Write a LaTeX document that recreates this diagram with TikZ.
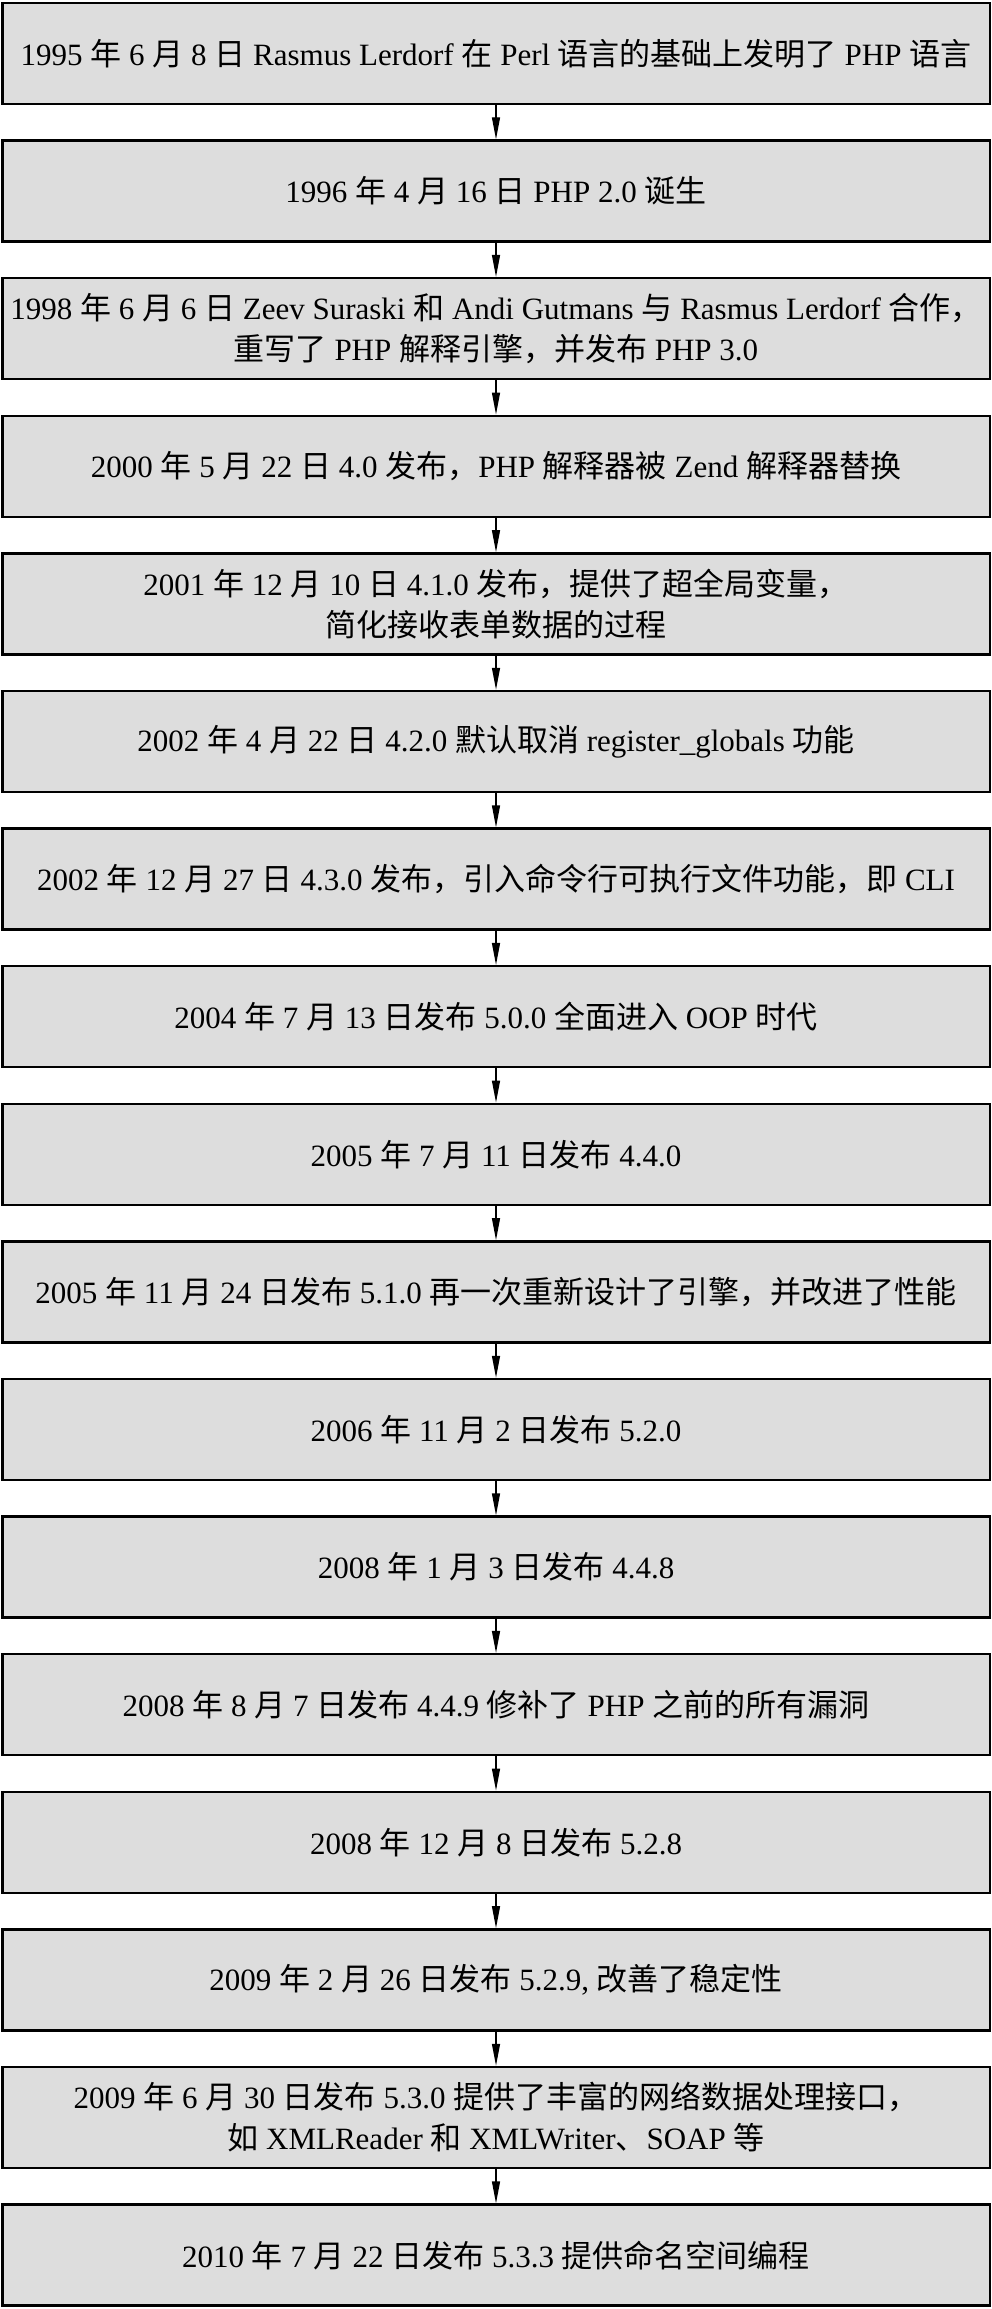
\documentclass[tikz,border=0pt]{standalone}
\usepackage{fontspec}
\setmainfont{Liberation Serif}
\newfontfamily\zhfont{Noto Sans CJK SC}
\newcommand{\zh}[1]{{\zhfont #1}}
\usetikzlibrary{arrows.meta}
\definecolor{boxgray}{RGB}{221,221,221}
\tikzset{
  box/.style={draw=black, fill=boxgray, line width=2.5pt, minimum width=987.5pt,
    minimum height=101pt, inner sep=0pt, align=center,
    font=\fontsize{31}{41}\selectfont},
  arr/.style={line width=1.3pt, -{Triangle[length=22pt,width=8pt]}}
}
\begin{document}
\begin{tikzpicture}[x=1pt,y=1pt]
\useasboundingbox (0,0) rectangle (992,-2309);
\node[box] (b1) at (496,-53.5) {1995 \zh{年} 6 \zh{月} 8 \zh{日} Rasmus Lerdorf \zh{在} Perl \zh{语言的基础上发明了} PHP \zh{语言}};
\node[box] (b2) at (496,-191.1) {1996 \zh{年} 4 \zh{月} 16 \zh{日} PHP 2.0 \zh{诞生}};
\node[box] (b3) at (496,-328.7) {1998 \zh{年} 6 \zh{月} 6 \zh{日} Zeev Suraski \zh{和} Andi Gutmans \zh{与} Rasmus Lerdorf \zh{合作，}\\\zh{重写了} PHP \zh{解释引擎，并发布} PHP 3.0};
\node[box] (b4) at (496,-466.3) {2000 \zh{年} 5 \zh{月} 22 \zh{日} 4.0 \zh{发布，}PHP \zh{解释器被} Zend \zh{解释器替换}};
\node[box] (b5) at (496,-603.9) {2001 \zh{年} 12 \zh{月} 10 \zh{日} 4.1.0 \zh{发布，提供了超全局变量，}\\\zh{简化接收表单数据的过程}};
\node[box] (b6) at (496,-741.5) {2002 \zh{年} 4 \zh{月} 22 \zh{日} 4.2.0 \zh{默认取消} register\_globals \zh{功能}};
\node[box] (b7) at (496,-879.1) {2002 \zh{年} 12 \zh{月} 27 \zh{日} 4.3.0 \zh{发布，引入命令行可执行文件功能，即} CLI};
\node[box] (b8) at (496,-1016.7) {2004 \zh{年} 7 \zh{月} 13 \zh{日发布} 5.0.0 \zh{全面进入} OOP \zh{时代}};
\node[box] (b9) at (496,-1154.3) {2005 \zh{年} 7 \zh{月} 11 \zh{日发布} 4.4.0};
\node[box] (b10) at (496,-1291.9) {2005 \zh{年} 11 \zh{月} 24 \zh{日发布} 5.1.0 \zh{再一次重新设计了引擎，并改进了性能}};
\node[box] (b11) at (496,-1429.5) {2006 \zh{年} 11 \zh{月} 2 \zh{日发布} 5.2.0};
\node[box] (b12) at (496,-1567.1) {2008 \zh{年} 1 \zh{月} 3 \zh{日发布} 4.4.8};
\node[box] (b13) at (496,-1704.7) {2008 \zh{年} 8 \zh{月} 7 \zh{日发布} 4.4.9 \zh{修补了} PHP \zh{之前的所有漏洞}};
\node[box] (b14) at (496,-1842.3) {2008 \zh{年} 12 \zh{月} 8 \zh{日发布} 5.2.8};
\node[box] (b15) at (496,-1979.9) {2009 \zh{年} 2 \zh{月} 26 \zh{日发布} 5.2.9, \zh{改善了稳定性}};
\node[box] (b16) at (496,-2117.5) {2009 \zh{年} 6 \zh{月} 30 \zh{日发布} 5.3.0 \zh{提供了丰富的网络数据处理接口，}\\\zh{如} XMLReader \zh{和} XMLWriter\zh{、}SOAP \zh{等}};
\node[box] (b17) at (496,-2255.1) {2010 \zh{年} 7 \zh{月} 22 \zh{日发布} 5.3.3 \zh{提供命名空间编程}};
\foreach \a/\b in {1/2,2/3,3/4,4/5,5/6,6/7,7/8,8/9,9/10,10/11,11/12,12/13,13/14,14/15,15/16,16/17}
  \draw[arr] (b\a.south) -- (b\b.north);
\end{tikzpicture}
\end{document}
